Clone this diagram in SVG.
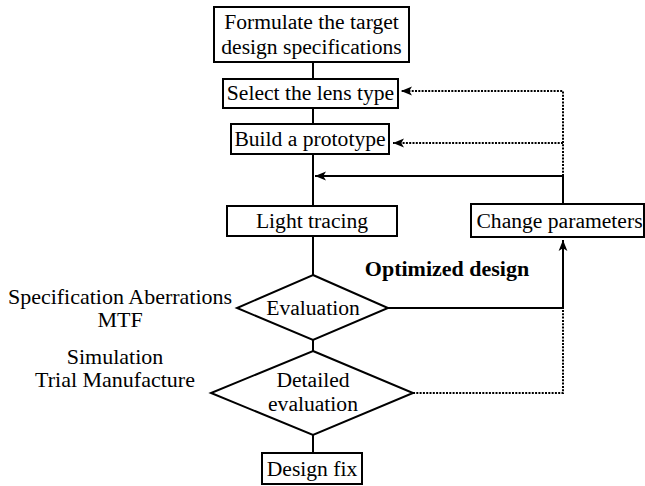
<svg xmlns="http://www.w3.org/2000/svg" width="645" height="486" viewBox="0 0 645 486">
<style>
.box{fill:#fff;stroke:#000;stroke-width:2}
.dia{fill:#fff;stroke:#000;stroke-width:2}
.ln{fill:none;stroke:#000;stroke-width:2}
.dot{fill:none;stroke:#000;stroke-width:2;stroke-dasharray:2 1.3}
text{font-family:"Liberation Serif","DejaVu Serif",serif;font-size:21.6px;fill:#000;text-anchor:middle}
.b{font-weight:bold;font-size:22px}
.s{font-size:22px}
</style>
<defs>
<marker id="ah2" viewBox="0 0 10 10" refX="10" refY="5" markerWidth="11" markerHeight="11" orient="auto" markerUnits="userSpaceOnUse">
<path d="M0,1 L10,5 L0,9 L2.5,5 Z" fill="#000"/>
</marker>
</defs>
<g id="connectors">
<line class="ln" x1="313" y1="62" x2="313" y2="79"/>
<line class="ln" x1="313" y1="108" x2="313" y2="124"/>
<line class="ln" x1="313" y1="154" x2="313" y2="206"/>
<line class="ln" x1="313" y1="236" x2="313" y2="275"/>
<line class="ln" x1="313" y1="340" x2="313" y2="351"/>
<line class="ln" x1="313" y1="435" x2="313" y2="453"/>
<polyline class="ln" points="388,308 563,308 563,240" marker-end="url(#ah2)"/>
<polyline class="ln" points="563,204 563,176 315,176" marker-end="url(#ah2)"/>
<polyline class="dot" points="413,393 563,393 563,308"/>
<polyline class="dot" points="563,176 563,91 401,91" marker-end="url(#ah2)"/>
<line class="dot" x1="563" y1="143" x2="393" y2="143" marker-end="url(#ah2)"/>
</g>
<g id="formulate">
<rect class="box" x="214" y="7" width="195" height="55"/>
<text x="311.5" y="29">Formulate the target</text>
<text x="311.5" y="54">design specifications</text>
</g>
<g id="select">
<rect class="box" x="223" y="79" width="175" height="29"/>
<text x="310.5" y="100">Select the lens type</text>
</g>
<g id="prototype">
<rect class="box" x="231" y="124" width="158" height="30"/>
<text x="310" y="146">Build a prototype</text>
</g>
<g id="lighttracing">
<rect class="box" x="227" y="206" width="170" height="30"/>
<text x="312" y="228">Light tracing</text>
</g>
<g id="change">
<rect class="box" x="471" y="204" width="173" height="33"/>
<text x="559.5" y="228">Change parameters</text>
</g>
<g id="evaluation">
<polygon class="dia" points="313,275 388,308 313,340 237,308"/>
<text x="313" y="315">Evaluation</text>
</g>
<g id="detailed">
<polygon class="dia" points="313,351 413,393 313,435 211,393"/>
<text x="313" y="387">Detailed</text>
<text x="313" y="411">evaluation</text>
</g>
<g id="designfix">
<rect class="box" x="262" y="453" width="100" height="31"/>
<text x="312" y="476">Design fix</text>
</g>
<g id="labels">
<text class="b" x="447" y="276">Optimized design</text>
<text class="s" x="120" y="304">Specification Aberrations</text>
<text class="s" x="120" y="327">MTF</text>
<text class="s" x="115" y="364">Simulation</text>
<text class="s" x="115" y="387">Trial Manufacture</text>
</g>
</svg>
